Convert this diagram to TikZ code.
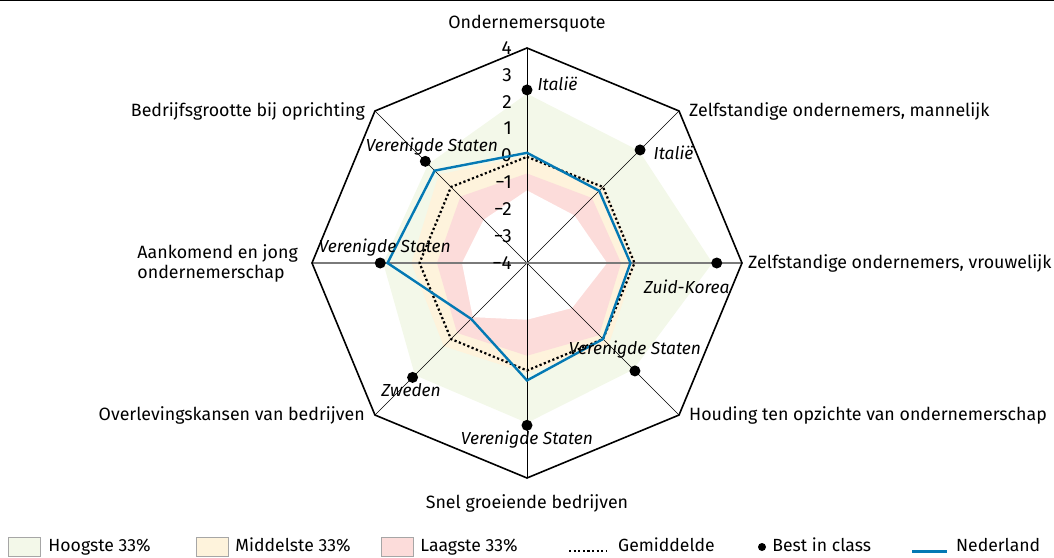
\documentclass[tikz,border=0pt]{standalone}
\usepackage{fontspec}
\setmainfont{Fira Sans}
\usetikzlibrary{positioning}

\definecolor{hoog}{HTML}{F3F8E9}
\definecolor{midden}{HTML}{FEF3DC}
\definecolor{laag}{HTML}{FCDCDA}
\definecolor{nlblauw}{HTML}{0479B4}
\definecolor{askleur}{HTML}{7A7A7A}

\newcommand{\schaal}{26.875}

\tikzset{
  spaak/.style={draw=black,line width=0.7},
  rand/.style={draw=black,line width=1.6,line join=miter},
  gem/.style={draw=black,line width=2.2,dash pattern=on 2.2 off 2.4},
  nl/.style={draw=nlblauw,line width=2.4,line join=miter},
  best/.style={circle,fill=black,inner sep=0pt,minimum size=11},
  land/.style={font=\fontsize{17.4}{20}\selectfont\itshape,inner sep=1pt},
  as/.style={font=\fontsize{17.8}{20}\selectfont,inner sep=1pt},
  schaalgetal/.style={anchor=east,font=\fontsize{19}{21}\selectfont,inner sep=0pt},
  legbox/.style={draw=gray!70,line width=0.6,minimum width=32,minimum height=19,inner sep=0pt},
  legtekst/.style={font=\fontsize{17.6}{20}\selectfont,inner sep=0pt}
}

\begin{document}
\begin{tikzpicture}[x=1pt,y=1pt]

  \useasboundingbox (-527,-294) rectangle (527,263);
  \coordinate (lt) at (-527,262.4);
  \coordinate (rt) at (527,262.4);
  \draw[line width=0.8] (lt) -- (rt);

  \coordinate (c) at (0,0);
  \foreach \i in {0,...,7}
    \coordinate (o\i) at ({90-45*\i}:215);

  \foreach \v [count=\i from 0] in {2.3,1.9,2.9,1.6,1.95,1.9,1.35,1.2}
    \coordinate (g\i) at ({90-45*\i}:{(\v+4)*\schaal});
  \foreach \v [count=\i from 0] in {0.0,0.05,0.05,0.3,0.1,0.38,0.3,0.65}
    \coordinate (m\i) at ({90-45*\i}:{(\v+4)*\schaal});
  \foreach \v [count=\i from 0] in {-0.67,-0.58,-0.5,-0.2,-0.55,-0.32,-0.65,-0.5}
    \coordinate (p\i) at ({90-45*\i}:{(\v+4)*\schaal});
  \foreach \v [count=\i from 0] in {-1.3,-1.5,-1.02,-1.63,-1.89,-1.15,-1.58,-1.72}
    \coordinate (w\i) at ({90-45*\i}:{(\v+4)*\schaal});
  \foreach \v [count=\i from 0] in {-0.05,0,0,0,0,0,0,0}
    \coordinate (a\i) at ({90-45*\i}:{(\v+4)*\schaal});
  \foreach \v [count=\i from 0] in {0.1,-0.2,-0.15,0.0,0.37,-1.06,1.19,0.86}
    \coordinate (n\i) at ({90-45*\i}:{(\v+4)*\schaal});

  \fill[hoog] (g0) -- (g1) -- (g2) -- (g3) -- (g4) -- (g5) -- (g6) -- (g7) -- cycle;
  \fill[midden] (m0) -- (m1) -- (m2) -- (m3) -- (m4) -- (m5) -- (m6) -- (m7) -- cycle;
  \fill[laag] (p0) -- (p1) -- (p2) -- (p3) -- (p4) -- (p5) -- (p6) -- (p7) -- cycle;
  \fill[white] (w0) -- (w1) -- (w2) -- (w3) -- (w4) -- (w5) -- (w6) -- (w7) -- cycle;

  \draw[spaak] (o1) -- (o5);
  \draw[spaak] (o3) -- (o7);
  \draw[spaak,line width=1] (o0) -- (o4);
  \draw[draw=askleur,line width=1.5] (o6) -- (o2);
  \draw[rand] (o0) -- (o1) -- (o2) -- (o3) -- (o4) -- (o5) -- (o6) -- (o7) -- cycle;

  \begin{scope}[every node/.style={schaalgetal}]
    \node (t4)  at (-15,{8*\schaal}) {4};
    \node (t3)  at (-15,{7*\schaal}) {3};
    \node (t2)  at (-15,{6*\schaal}) {2};
    \node (t1)  at (-15,{5*\schaal}) {1};
    \node (t0)  at (-15,{4*\schaal}) {0};
    \node (tm1) at (-15,{3*\schaal}) {−1};
    \node (tm2) at (-15,{2*\schaal}) {−2};
    \node (tm3) at (-15,{1*\schaal}) {−3};
    \node (tm4) at (-15,0) {−4};
  \end{scope}

  \draw[gem] (a0) -- (a1) -- (a2) -- (a3) -- (a4) -- (a5) -- (a6) -- (a7) -- cycle;
  \draw[nl] (n0) -- (n1) -- (n2) -- (n3) -- (n4) -- (n5) -- (n6) -- (n7) -- cycle;

  \foreach \v [count=\i from 0] in {2.44,1.95,3.06,1.68,2.04,2.02,1.46,1.35}
    \node[best] (b\i) at ({90-45*\i}:{(\v+4)*\schaal}) {};

  \begin{scope}[every node/.style={land}]
    \node (l0) at ([shift={(30.5,6)}]b0) {Italië};
    \node (l1) at ([shift={(33.5,-3)}]b1) {Italië};
    \node (l2) at ([shift={(-30,-24)}]b2) {Zuid-Korea};
    \node (l3) at ([shift={(0,21)}]b3) {Verenigde Staten};
    \node (l4) at ([shift={(0,-14)}]b4) {Verenigde Staten};
    \node (l5) at ([shift={(-1.5,-13)}]b5) {Zweden};
    \node (l6) at ([shift={(4.5,15)}]b6) {Verenigde Staten};
    \node (l7) at ([shift={(6.5,15)}]b7) {Verenigde Staten};
  \end{scope}

  \begin{scope}[every node/.style={as}]
    \node[above=15pt of o0] (quote) {Ondernemersquote};
    \node[right=9pt of o1] (mannen) {Zelfstandige ondernemers, mannelijk};
    \node[right=5pt of o2] (vrouwen) {Zelfstandige ondernemers, vrouwelijk};
    \node[right=9pt of o3] (houding) {Houding ten opzichte van ondernemerschap};
    \node[below=15pt of o4] (snel) {Snel groeiende bedrijven};
    \node[left=9pt of o5] (overleving) {Overlevingskansen van bedrijven};
    \node[left=13pt of o6,align=left] (jong) {Aankomend en jong\\ondernemerschap};
    \node[left=9pt of o7] (grootte) {Bedrijfsgrootte bij oprichting};
  \end{scope}

  \node[legbox,fill=hoog] (k1) at (-503,-283.5) {};
  \node[legtekst,right=8pt of k1,anchor=base west,yshift=-5] (k1t) {Hoogste 33\%};
  \node[legbox,fill=midden] (k2) at (-315,-283.5) {};
  \node[legtekst,right=7pt of k2,anchor=base west,yshift=-5] (k2t) {Middelste 33\%};
  \node[legbox,fill=laag] (k3) at (-130,-283.5) {};
  \node[legtekst,right=7pt of k3,anchor=base west,yshift=-5] (k3t) {Laagste 33\%};
  \coordinate (k4a) at (42,-288);
  \coordinate (k4b) at (79,-288);
  \draw[gem] (k4a) -- (k4b);
  \node[legtekst,right=12pt of k4b,anchor=base west,yshift=-0.5] (k4t) {Gemiddelde};
  \node[best,minimum size=8] (k5) at (235,-284) {};
  \node[legtekst,right=6pt of k5,anchor=base west,yshift=-4.5] (k5t) {Best in class};
  \coordinate (k6a) at (385,-288.5);
  \coordinate (k6b) at (420,-288.5);
  \draw[nl] (k6a) -- (k6b);
  \node[legtekst,right=9pt of k6b,anchor=base west] (k6t) {Nederland};

\end{tikzpicture}
\end{document}
